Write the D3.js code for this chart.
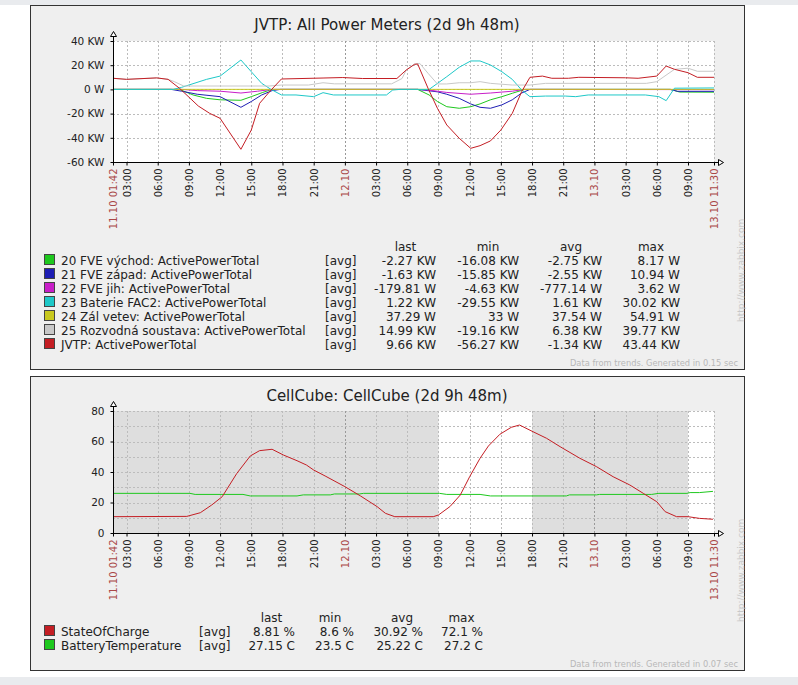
<!DOCTYPE html>
<html>
<head>
<meta charset="utf-8">
<script src="https://cdn.jsdelivr.net/npm/d3@7"></script>
<style>
  body { margin: 0; background: #fff; }
  svg { display: block; font-family: "DejaVu Sans", sans-serif; }
</style>
</head>
<body>
<div id="chart"></div>
<script>
// time is given in hours counted from 11.10 00:00
var startHour = 1.7;   // 11.10 01:42
var endHour = 59.5;    // 13.10 11:30

// --- chart 1: JVTP all power meters (KW) ---
var fveVychod = [[1.7,0],[8.1,0],[9.4,-4.6],[10.7,-7.4],[12,-8.6],[14,-9],[15,-6],[16.1,-2.5],[17,0],[31,0],[32.1,-4.6],[32.9,-10],[33.8,-14.3],[35,-15.6],[36.1,-14.3],[37,-12],[38,-8.6],[39.1,-6],[40.1,-3.2],[41.3,0],[55.3,0],[56.2,-2.2],[59.5,-2.3]];
var fveZapad = [[1.7,0],[7.3,0],[8.3,-1.5],[9.8,-4],[12,-6],[14,-14.8],[15,-10],[16,-4.6],[17,-1],[17.8,0],[31,0],[32.9,-2],[33.8,-4],[35,-7.4],[36.1,-12],[37,-14.8],[38,-15.6],[39.1,-12.8],[40.1,-8.6],[41,-3],[41.8,0],[55.3,0],[56,-1.6],[59.5,-1.6]];
var fveJih = [[1.7,0],[8.3,0],[9.8,-1],[12,-1.5],[14,-3],[15.6,-1.5],[17,0],[31,0],[32,-0.5],[33.8,-2.5],[36.1,-4],[38,-3],[40.1,-1.5],[41.3,0],[59.5,-0.2]];
var baterie = [[1.7,0],[7.5,0],[8.3,1.7],[10.7,8.3],[12,11],[14,24.3],[15,14.6],[16,5],[16.9,0],[17.9,-4.6],[19.3,-4.6],[21,-6],[21.9,-2.7],[22.9,-4.6],[28,-4.6],[28.6,-0.5],[29.3,0],[32.1,0],[33.8,10.5],[35,18.3],[36.1,23.5],[37,23.5],[38,20.2],[39.1,14.6],[40.1,8.3],[41,-0.5],[41.8,-6],[43.3,-5.5],[45.2,-5.5],[46.2,-6],[47.4,-4.6],[52.9,-4.6],[54.2,-6],[54.9,-9.3],[55.7,1],[59.5,1.2]];
var zalVetev = [[1.7,0.04],[30,0.04],[59.5,0.04]];
var rozvodna = [[1.7,9.2],[3,8.3],[5.9,9.5],[7,8.3],[7.6,6.4],[8.5,2.8],[16.7,2.8],[17.9,3.6],[20.5,3.6],[21.9,5.5],[23,4.6],[28.5,4.6],[29.5,9],[29.9,16],[30.7,21],[31.2,21.5],[32,13.3],[32.9,4.5],[33.8,4.5],[35,5.5],[36.1,5.5],[37,6.4],[38,5],[40.1,3.6],[41.8,3.6],[43.3,5],[53,5],[54,6.4],[55.7,16.6],[57,17.5],[57.9,15],[59.5,15]];
var jvtp = [[1.7,9.2],[3,8.3],[5.9,9.5],[7,8.3],[8.1,0.9],[9.9,-13.7],[11,-19.8],[12,-23.9],[14,-49.5],[15,-33.6],[15.8,-11.5],[16.9,-0.5],[17.9,8.6],[21.9,9.4],[23.8,9.8],[25.7,9],[29,9],[29.9,16],[30.7,20.7],[31,21],[32,0.9],[32.9,-15.6],[33.8,-29.4],[35,-40.4],[36.1,-48.7],[37,-46.5],[38,-42.6],[39,-33.6],[40.1,-19.8],[41,-1.9],[41.8,10],[43,11],[43.9,9.2],[45.5,9.2],[46.5,10],[51,9.6],[52.2,9.2],[54,11],[54.9,19.3],[55.7,16.6],[57,13.8],[57.9,10],[59.5,10]];

var names1 = ["20 FVE východ: ActivePowerTotal", "21 FVE západ: ActivePowerTotal", "22 FVE jih: ActivePowerTotal", "23 Baterie FAC2: ActivePowerTotal", "24 Zál vetev: ActivePowerTotal", "25 Rozvodná soustava: ActivePowerTotal", "JVTP: ActivePowerTotal"];
var colors1 = ["#1ec81e", "#1e1eb4", "#c81ec8", "#1ec8c8", "#c8c81e", "#c8c8c8", "#c41e24"];
var last1 = ["-2.27 KW", "-1.63 KW", "-179.81 W", "1.22 KW", "37.29 W", "14.99 KW", "9.66 KW"];
var min1 = ["-16.08 KW", "-15.85 KW", "-4.63 KW", "-29.55 KW", "33 W", "-19.16 KW", "-56.27 KW"];
var avg1 = ["-2.75 KW", "-2.55 KW", "-777.14 W", "1.61 KW", "37.54 W", "6.38 KW", "-1.34 KW"];
var max1 = ["8.17 W", "10.94 W", "3.62 W", "30.02 KW", "54.91 W", "39.77 KW", "43.44 KW"];
var yTicks1 = [-60, -40, -20, 0, 20, 40];
var yLabels1 = ["-60 KW", "-40 KW", "-20 KW", "0 W", "20 KW", "40 KW"];

// --- chart 2: CellCube ---
var stateOfCharge = [[1.7,10.7],[8.8,10.9],[10.1,13.3],[11.2,18.4],[12.2,23.8],[13.6,39],[14.9,50.5],[15.8,54],[17,54.9],[18.1,51.1],[19.4,47.4],[20.3,44.6],[21,41.3],[22.1,37.4],[24,30.4],[25.5,24.3],[27.1,17.3],[27.9,12.9],[28.8,10.7],[32.5,10.7],[33,11.8],[34.1,17.3],[35.1,24.9],[36,36.9],[37,49],[37.8,57],[38.9,64.7],[40,69.3],[40.8,70.8],[42.1,66.4],[43.4,62.1],[44.7,56.6],[46.6,49],[48.2,43.5],[49.8,36.9],[51.4,31.5],[52.7,26],[54,20.5],[54.8,14],[55.9,10.7],[57,10.7],[58.1,9.6],[59.4,9]];
var batteryTemp = [[1.7,26],[9.1,26],[9.6,25.3],[14.2,25.3],[14.9,24.3],[19.4,24.3],[20,25],[22.6,25],[23,25.6],[25.4,25.6],[25.8,26],[33.1,26],[33.8,25.3],[37,25.3],[38,24.3],[45.3,24.3],[45.6,25],[48.2,25],[48.5,25.3],[53.5,25.3],[54.2,26],[56.9,26],[57.2,26.5],[58.1,26.5],[59.4,27.3]];
var names2 = ["StateOfCharge", "BatteryTemperature"];
var colors2 = ["#c41e24", "#1ec81e"];
var last2 = ["8.81 %", "27.15 C"];
var min2 = ["8.6 %", "23.5 C"];
var avg2 = ["30.92 %", "25.22 C"];
var max2 = ["72.1 %", "27.2 C"];
var yTicks2 = [0, 20, 40, 60, 80];
var yGrid2 = [10, 20, 30, 40, 50, 60, 70, 80];
var offHours = [[1.7, 33], [42, 57]];   // shaded (non working) periods

function toDate(h) { return new Date(Date.UTC(2020, 9, 11) + h * 3600000); }

var svg = d3.select("#chart").append("svg")
  .attr("width", 798)
  .attr("height", 685);

// page strips
svg.append("rect").attr("x", 0).attr("y", 0).attr("width", 798).attr("height", 5).attr("fill", "#e9ebee");
svg.append("rect").attr("x", 0).attr("y", 677).attr("width", 798).attr("height", 8).attr("fill", "#e9ebee");

var x = d3.scaleUtc()
  .domain([toDate(startHour), toDate(endHour)])
  .range([113, 714]);
var xTicks = d3.utcHour.every(3).range(toDate(startHour), toDate(endHour));

function drawChart(cfg) {
  var g = svg.append("g");
  var top = cfg.top, bottom = cfg.bottom;

  g.append("rect")
    .attr("x", 30.5).attr("y", cfg.boxTop + 0.5)
    .attr("width", 714).attr("height", cfg.boxBottom - cfg.boxTop)
    .attr("fill", "#efefef").attr("stroke", "#333");

  g.append("text")
    .attr("x", 387).attr("y", cfg.boxTop + 25)
    .attr("text-anchor", "middle")
    .style("font-size", "15px").attr("fill", "#222")
    .text(cfg.title);

  var y = d3.scaleLinear().domain(cfg.yDomain).range([bottom, top]);

  g.append("rect")
    .attr("x", 113).attr("y", top)
    .attr("width", 601).attr("height", bottom - top)
    .attr("fill", "#fff");

  (cfg.shade || []).forEach(function (p) {
    g.append("rect")
      .attr("x", x(toDate(p[0]))).attr("y", top)
      .attr("width", x(toDate(p[1])) - x(toDate(p[0])))
      .attr("height", bottom - top)
      .attr("fill", "#dedede");
  });

  // grid
  g.selectAll(".hgrid").data(cfg.yGrid).enter().append("line")
    .attr("x1", 113).attr("x2", 714)
    .attr("y1", d => Math.round(y(d)) + 0.5).attr("y2", d => Math.round(y(d)) + 0.5)
    .attr("stroke", "#bcbcbc").attr("stroke-dasharray", "2,2");
  g.selectAll(".vgrid").data(xTicks.concat([toDate(endHour)])).enter().append("line")
    .attr("x1", d => Math.round(x(d)) + 0.5).attr("x2", d => Math.round(x(d)) + 0.5)
    .attr("y1", top).attr("y2", bottom)
    .attr("stroke", d => d.getUTCHours() === 0 ? "#999" : "#bcbcbc")
    .attr("stroke-dasharray", "2,2");

  // series
  var line = d3.line()
    .x(d => x(toDate(d[0])))
    .y(d => y(d[1]));
  cfg.order.forEach(function (i) {
    g.append("path")
      .datum(cfg.series[i])
      .attr("d", line)
      .attr("fill", "none")
      .attr("stroke", cfg.colors[i])
      .attr("stroke-width", 1);
  });

  // axes
  var leftAxis = d3.axisLeft(y)
    .tickValues(cfg.yTicks)
    .tickFormat((d, i) => cfg.yLabels[i])
    .tickSize(3).tickSizeOuter(0).tickPadding(6);
  var yAxisG = g.append("g").attr("transform", "translate(113.5,0)").call(leftAxis);
  yAxisG.select(".domain").remove();
  yAxisG.selectAll("text").style("font-family", "DejaVu Sans").style("font-size", "10.5px").attr("fill", "#222");

  var bottomAxis = d3.axisBottom(x)
    .tickValues([toDate(startHour)].concat(xTicks, [toDate(endHour)]))
    .tickSize(3).tickSizeOuter(0)
    .tickFormat(function (d, i, all) {
      if (i === 0 || i === all.length - 1) return d3.utcFormat("%d.%m %H:%M")(d);
      if (d.getUTCHours() === 0) return d3.utcFormat("%d.%m")(d);
      return d3.utcFormat("%H:%M")(d);
    });
  var xAxisG = g.append("g").attr("transform", `translate(0, ${bottom + 0.5})`).call(bottomAxis);
  xAxisG.select(".domain").remove();
  var nTicks = xTicks.length + 2;
  xAxisG.selectAll("text")
    .attr("x", -6).attr("y", 0).attr("dy", "0.35em")
    .attr("transform", "rotate(-90)")
    .style("text-anchor", "end")
    .style("font-family", "DejaVu Sans").style("font-size", "10px")
    .attr("fill", function (d, i) {
      return (i === 0 || i === nTicks - 1 || d.getUTCHours() === 0) ? "#aa4848" : "#222";
    });

  // axis lines with arrows
  g.append("line").attr("x1", 113.5).attr("x2", 113.5).attr("y1", bottom + 0.5).attr("y2", top - 5)
    .attr("stroke", "#000");
  g.append("path")
    .attr("d", `M113.5,${top - 9.5} L110.5,${top - 4.5} L116.5,${top - 4.5} Z`)
    .attr("fill", "#fff").attr("stroke", "#000");
  g.append("line").attr("x1", 113).attr("x2", 718).attr("y1", bottom + 0.5).attr("y2", bottom + 0.5)
    .attr("stroke", "#000");
  g.append("path")
    .attr("d", `M723.5,${bottom + 0.5} L718.5,${bottom - 2.5} L718.5,${bottom + 3.5} Z`)
    .attr("fill", "#fff").attr("stroke", "#000");

  // watermark
  g.append("text")
    .attr("transform", `translate(744, ${cfg.markBottom}) rotate(-90)`)
    .style("font-size", "9px").attr("fill", "#c8c8c8")
    .text("http://www.zabbix.com");

  // legend
  var lg = cfg.legend;
  var hdr = ["last", "min", "avg", "max"];
  hdr.forEach(function (h, k) {
    g.append("text")
      .attr("x", lg.headX[k]).attr("y", lg.headY)
      .attr("text-anchor", "middle")
      .style("font-size", "12px").attr("fill", "#222")
      .text(h);
  });
  cfg.names.forEach(function (name, i) {
    var by = lg.rowY + i * 14;
    g.append("rect")
      .attr("x", 44.5).attr("y", by - 10.5)
      .attr("width", 10).attr("height", 10)
      .attr("fill", cfg.colors[i]).attr("stroke", "#444");
    g.append("text").attr("x", 61).attr("y", by)
      .style("font-size", "12px").attr("fill", "#222").text(name);
    g.append("text").attr("x", lg.avgX).attr("y", by)
      .style("font-size", "12px").attr("fill", "#222").text("[avg]");
    [cfg.last, cfg.min, cfg.avg, cfg.max].forEach(function (col, k) {
      g.append("text")
        .attr("x", lg.colX[k]).attr("y", by)
        .attr("text-anchor", "end")
        .style("font-size", "12px").attr("fill", "#222")
        .text(col[i]);
    });
  });

  g.append("text")
    .attr("x", 738).attr("y", cfg.footY)
    .attr("text-anchor", "end")
    .style("font-size", "8.3px").attr("fill", "#b8b8b8")
    .text(cfg.footer);
}

drawChart({
  title: "JVTP: All Power Meters (2d 9h 48m)",
  boxTop: 5, boxBottom: 369,
  top: 41, bottom: 162,
  yDomain: [-60, 40],
  yTicks: yTicks1, yLabels: yLabels1, yGrid: [-40, -20, 0, 20, 40],
  series: [fveVychod, fveZapad, fveJih, baterie, zalVetev, rozvodna, jvtp],
  order: [0, 1, 2, 4, 3, 5, 6],
  colors: colors1,
  names: names1, last: last1, min: min1, avg: avg1, max: max1,
  legend: { headY: 251, rowY: 265, avgX: 325, colX: [436, 519, 602, 680], headX: [405.5, 488, 571, 651] },
  markBottom: 322,
  footY: 366,
  footer: "Data from trends. Generated in 0.15 sec"
});

drawChart({
  title: "CellCube: CellCube (2d 9h 48m)",
  boxTop: 376, boxBottom: 670,
  top: 411, bottom: 533,
  yDomain: [0, 80],
  yTicks: yTicks2, yLabels: yTicks2.map(String), yGrid: yGrid2,
  shade: offHours,
  series: [stateOfCharge, batteryTemp],
  order: [1, 0],
  colors: colors2,
  names: names2, last: last2, min: min2, avg: avg2, max: max2,
  legend: { headY: 622, rowY: 636, avgX: 199, colX: [295, 354, 423, 483], headX: [271.5, 330, 402, 461.5] },
  markBottom: 622,
  footY: 667,
  footer: "Data from trends. Generated in 0.07 sec"
});
</script>
</body>
</html>
